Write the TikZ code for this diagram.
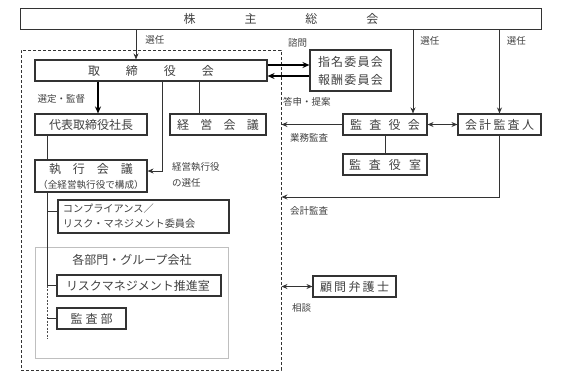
\documentclass[tikz,border=0pt]{standalone}
\usepackage{fontspec}
\setmainfont{Noto Sans CJK JP}
\usetikzlibrary{arrows.meta, positioning, calc}
\newcommand{\spread}[2]{\makebox[#1][s]{#2}}
\tikzset{
	box/.style  ={rectangle, draw=black!80, line width=1.1pt, minimum height=21pt, inner sep=0pt, align=center, text=black!75, font=\fontsize{12}{15}\selectfont},
	lbl/.style  ={inner sep=0pt, anchor=west, align=left, font=\fontsize{9.5}{16}\selectfont, text=black!75},
	link/.style ={line width=0.9pt, draw=black!80},
	arr/.style  ={-{Stealth[length=6pt, width=5pt]}, line width=0.9pt, draw=black!80},
	arrs/.style ={{Stealth[length=6pt, width=5pt]}-{Stealth[length=6pt, width=5pt]}, line width=0.9pt, draw=black!80},
	arrb/.style ={-{Stealth[length=7pt, width=6pt]}, line width=1.8pt},
	% frames
	corpframe/.style ={draw=black!80, line width=0.9pt, dash pattern=on 3pt off 2pt},
	groupframe/.style={draw=black!25, line width=0.9pt},
}
\begin{document}
\begin{tikzpicture}[x=1pt, y=-1pt]
	\useasboundingbox (0,0) rectangle (566,384);
	% frames
	\node[corpframe, minimum width=260pt, minimum height=320pt] (corp) at (151,210) {};
	\node[groupframe, minimum width=193pt, minimum height=111pt] (grp) at (131.5,302.5) {};
	\node[text=black!75, font=\fontsize{12}{14}\selectfont] (grpt) at (132,260) {各部門・グループ会社};
	% boxes
	\node[box, minimum width=521pt] (gm) at (281,19) {\spread{195pt}{株\hfill 主\hfill 総\hfill 会}};
	\node[box, minimum width=232pt] (board) at (151,70.5) {\spread{126pt}{取\hfill 締\hfill 役\hfill 会}};
	\node[box, minimum width=81pt, minimum height=41pt, font=\fontsize{12}{18}\selectfont] (nomc) at (350.5,70.5) {\spread{65pt}{指\hfill 名\hfill 委\hfill 員\hfill 会}\\\spread{65pt}{報\hfill 酬\hfill 委\hfill 員\hfill 会}};
	\node[box, minimum width=112pt] (ceo) at (91,124.5) {代表取締役社長};
	\node[box, minimum width=96pt] (mgmt) at (218,124.5) {\spread{82pt}{経\hfill 営\hfill 会\hfill 議}};
	\node[box, minimum width=112pt, minimum height=32pt] (exec) at (91,176) {\spread{84pt}{執\hfill 行\hfill 会\hfill 議}\\{\fontsize{9.6}{12}\selectfont （全経営執行役で構成）}};
	\node[box, minimum width=171pt, minimum height=33pt, align=left, font=\fontsize{10.2}{15}\selectfont] (comp) at (143.5,216.5) {\makebox[161pt][l]{コンプライアンス／}\\リスク・マネジメント委員会\hspace{24pt}};
	\node[box, minimum width=164pt] (rmo) at (139,285.5) {\spread{146pt}{リスクマネジメント推進室}};
	\node[box, minimum width=69pt] (audit) at (91.5,318.5) {\spread{42pt}{監\hfill 査\hfill 部}};
	\node[box, minimum width=84pt] (kansa) at (385,124.5) {\spread{70pt}{監\hfill 査\hfill 役\hfill 会}};
	\node[box, minimum width=83pt] (kaikei) at (499.5,124.5) {\spread{69pt}{会\hfill 計\hfill 監\hfill 査\hfill 人}};
	\node[box, minimum width=84pt] (shitsu) at (385,164.5) {\spread{72pt}{監\hfill 査\hfill 役\hfill 室}};
	\node[box, minimum width=83pt] (lawyer) at (354.5,286.5) {\spread{69pt}{顧\hfill 問\hfill 弁\hfill 護\hfill 士}};
	\coordinate (tail) at (47,339);
	\coordinate (cbr) at ([yshift=5.5pt]comp.west);
	% connectors
	\draw[arr] ([xshift=-15pt]board.north |- gm.south) -- node[lbl, pos=0.35, right=9pt] {選任} ([xshift=-15pt]board.north);
	\draw[arrb] ([yshift=5.5pt]board.east) -- ([yshift=5.5pt]nomc.west);
	\draw[arrb] ([yshift=-5.5pt]nomc.west) -- ([yshift=-5.5pt]board.east);
	\draw[arrb] ([xshift=7pt]ceo.north |- board.south) -- node[lbl, pos=0.55, left=12pt, anchor=east] {選定・監督} ([xshift=7pt]ceo.north);
	\draw[link] ([xshift=-19pt]mgmt.north |- board.south) -- ([xshift=-19pt]mgmt.north);
	\draw[arr] ([xshift=11pt]board.south) |- ([yshift=5pt]exec.east);
	\draw[link] ([xshift=-44pt]ceo.south) -- ([xshift=-44pt]ceo.south |- exec.north);
	\draw[link] ([xshift=-44pt]exec.south) |- (rmo.west);
	\draw[link] (tail |- cbr) -- (cbr);
	\draw[line width=0.7pt, draw=black!70, dash pattern=on 2pt off 1.5pt] (tail |- rmo.west) -- (tail);
	\draw[link] (tail |- audit.west) -- (audit.west);
	\draw[arr] ([xshift=28pt]kansa.north |- gm.south) -- node[lbl, pos=0.13, right=7pt] {選任} ([xshift=28pt]kansa.north);
	\draw[arr] (kaikei.north |- gm.south) -- node[lbl, pos=0.13, right=7pt] {選任} (kaikei.north);
	\draw[arrs] (kansa) -- (kaikei);
	\draw[arr] (kansa.west) -- (kansa.west -| corp.east);
	\draw[link] (kansa) -- (shitsu);
	\draw[arr] (kaikei.south) |- ([yshift=13pt]corp.east);
	\draw[arrs] (lawyer.west -| corp.east) -- (lawyer.west);
	% labels
	\node[lbl] (l1) at (288,43) {諮問};
	\node[lbl] (l2) at (283,102) {答申・提案};
	\node[lbl] (l3) at (172,175) {経営執行役\\の選任};
	\node[lbl] (l4) at (290,138) {業務監査};
	\node[lbl] (l5) at (290,211) {会計監査};
	\node[lbl] (l6) at (292,308) {相談};
\end{tikzpicture}
\end{document}
